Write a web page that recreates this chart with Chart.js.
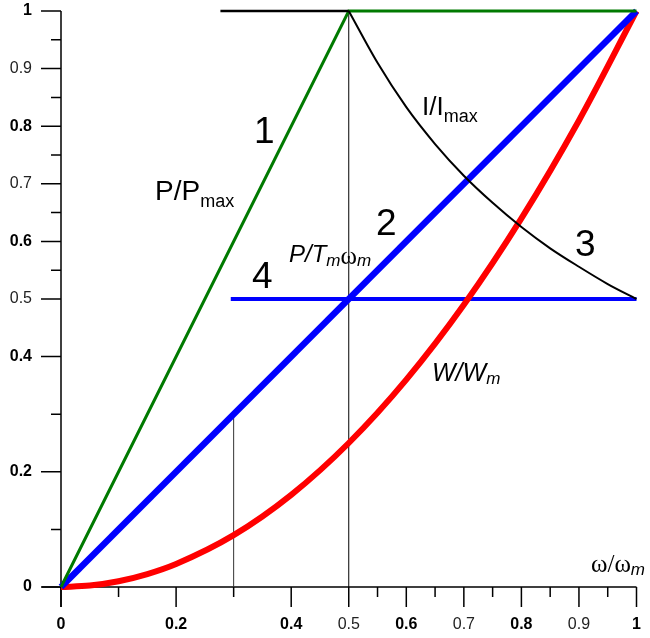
<!DOCTYPE html>
<html>
<head>
<meta charset="utf-8">
<script src="https://cdn.jsdelivr.net/npm/chart.js@4.4.0/dist/chart.umd.min.js"></script>
<style>
  html, body { margin: 0; padding: 0; background: #fff; }
  #wrap { width: 650px; height: 638px; }
</style>
</head>
<body>
<div id="wrap"><canvas id="chart" width="650" height="638"></canvas></div>
<script>
// ---- data ----
var axisTicks = [0, 0.1, 0.2, 0.3, 0.4, 0.5, 0.55, 0.6, 0.65, 0.7, 0.75, 0.8, 0.85, 0.9, 0.95, 1];
var majorTicks = [0, 0.2, 0.4, 0.5, 0.6, 0.7, 0.8, 0.9, 1];
var boldTicks = [0, 0.2, 0.4, 0.6, 0.8, 1];

// curve 1: P/Pmax
var powerX = [0, 0.5, 1];
var powerY = [0, 1, 1];
// curve 2: P/Tm.wm
var torqueX = [0, 1];
var torqueY = [0, 1];
// curve 4
var flatX = [0.295, 1];
var flatY = [0.5, 0.5];
// curve 3: I/Imax
var currentFlatX = [0.277, 0.5];
var currentFlatY = [1, 1];
var currentX = [0.5, 0.55, 0.6, 0.65, 0.7, 0.75, 0.8, 0.85, 0.9, 0.95, 1];
var currentY = [1, 0.91, 0.833, 0.769, 0.714, 0.667, 0.625, 0.588, 0.556, 0.526, 0.5];
// W/Wm
var energyX = [0, 0.05, 0.1, 0.15, 0.2, 0.3, 0.4, 0.5, 0.6, 0.7, 0.8, 0.9, 1];
var energyY = [0, 0.0025, 0.01, 0.0225, 0.04, 0.09, 0.16, 0.25, 0.36, 0.49, 0.64, 0.81, 1];
// thin vertical guides
var guideX = [0.5, 0.3];
var guideTop = [1, 0.3];

function pts(xs, ys) {
  return xs.map(function (x, i) { return { x: x, y: ys[i] }; });
}

var SANS = '"Liberation Sans", Arial, Helvetica, sans-serif';
var SERIF = '"Liberation Serif", "Times New Roman", serif';

// text labels: pieces drawn one after another, [text, font, baseline offset]
var labels = [
  { x: 254, y: 143, parts: [["1", "37px " + SANS, 0]] },
  { x: 376, y: 235, parts: [["2", "37px " + SANS, 0]] },
  { x: 575, y: 256, parts: [["3", "37px " + SANS, 0]] },
  { x: 252, y: 288, parts: [["4", "37px " + SANS, 0]] },
  { x: 155, y: 200, parts: [["P/P", "28px " + SANS, 0], ["max", "18px " + SANS, 7]] },
  { x: 422, y: 115, parts: [["I/I", "26px " + SANS, 0], ["max", "18px " + SANS, 7]] },
  { x: 289, y: 262, parts: [["P/T", "italic 24px " + SANS, 0], ["m", "italic 17px " + SANS, 4], ["\u03c9", "25px " + SERIF, 2], ["m", "italic 17px " + SANS, 4]] },
  { x: 432, y: 381, parts: [["W/W", "italic 25px " + SANS, 0], ["m", "italic 17px " + SANS, 3]] },
  { x: 591, y: 572, parts: [["\u03c9/\u03c9", "25px " + SERIF, 0], ["m", "italic 17px " + SANS, 3]] }
];

function line(data, color, width, extra) {
  var ds = {
    data: data,
    borderColor: color,
    borderWidth: width,
    pointRadius: 0,
    fill: false,
    tension: 0,
    clip: false
  };
  if (extra) Object.keys(extra).forEach(function (k) { ds[k] = extra[k]; });
  return ds;
}

var axesPlugin = {
  id: "axes",
  beforeDatasetsDraw: function (chart) {
    var ctx = chart.ctx;
    var xs = chart.scales.x, ys = chart.scales.y;
    var x0 = xs.getPixelForValue(0), y0 = ys.getPixelForValue(0);
    var x1 = xs.getPixelForValue(1), y1 = ys.getPixelForValue(1);
    ctx.save();
    ctx.strokeStyle = "#000";
    ctx.lineWidth = 1.5;
    ctx.beginPath();
    ctx.moveTo(x0 - 19, y0); ctx.lineTo(x1, y0);
    ctx.moveTo(x0, y1); ctx.lineTo(x0, y0 + 20);
    ctx.stroke();

    axisTicks.forEach(function (v) {
      var len = majorTicks.indexOf(v) >= 0 ? 20 : 10;
      var px = xs.getPixelForValue(v), py = ys.getPixelForValue(v);
      ctx.beginPath();
      ctx.moveTo(px, y0); ctx.lineTo(px, y0 + len);
      ctx.moveTo(x0, py); ctx.lineTo(x0 - len, py);
      ctx.stroke();
    });

    // tick labels
    majorTicks.forEach(function (v) {
      var bold = boldTicks.indexOf(v) >= 0;
      ctx.font = (bold ? "bold " : "") + "16px " + SANS;
      ctx.fillStyle = bold ? "#000" : "#222";
      ctx.textBaseline = "middle";
      ctx.textAlign = "right";
      ctx.fillText(String(v), 32, ys.getPixelForValue(v));
      ctx.textAlign = "center";
      ctx.fillText(String(v), xs.getPixelForValue(v), 625);
    });
    ctx.restore();
  },
  afterDraw: function (chart) {
    var ctx = chart.ctx;
    ctx.save();
    ctx.fillStyle = "#000";
    ctx.textAlign = "left";
    ctx.textBaseline = "alphabetic";
    labels.forEach(function (lb) {
      var x = lb.x;
      lb.parts.forEach(function (p) {
        ctx.font = p[1];
        ctx.fillText(p[0], x, lb.y + p[2]);
        x += ctx.measureText(p[0]).width;
      });
    });
    ctx.restore();
  }
};

var datasets = [
  line(pts(currentFlatX, currentFlatY), "#000", 2.5),
  line(pts(currentX, currentY), "#000", 2, { cubicInterpolationMode: "monotone" }),
  line(pts(powerX, powerY), "#007a00", 3),
  line(pts(torqueX, torqueY), "#0000ff", 6.5),
  line(pts(energyX, energyY), "#ff0000", 6, { cubicInterpolationMode: "monotone" }),
  line(pts(flatX, flatY), "#0000ff", 4),
  line(pts([guideX[0], guideX[0]], [0, guideTop[0]]), "#000", 1),
  line(pts([guideX[1], guideX[1]], [0, guideTop[1]]), "#333", 1)
];

new Chart(document.getElementById("chart"), {
  type: "line",
  data: { datasets: datasets },
  options: {
    responsive: false,
    animation: false,
    layout: { padding: { left: 61, right: 13.5, top: 11, bottom: 51 } },
    plugins: { legend: { display: false }, tooltip: { enabled: false } },
    scales: {
      x: { type: "linear", min: 0, max: 1, display: false },
      y: { type: "linear", min: 0, max: 1, display: false }
    }
  },
  plugins: [axesPlugin]
});
</script>
</body>
</html>
